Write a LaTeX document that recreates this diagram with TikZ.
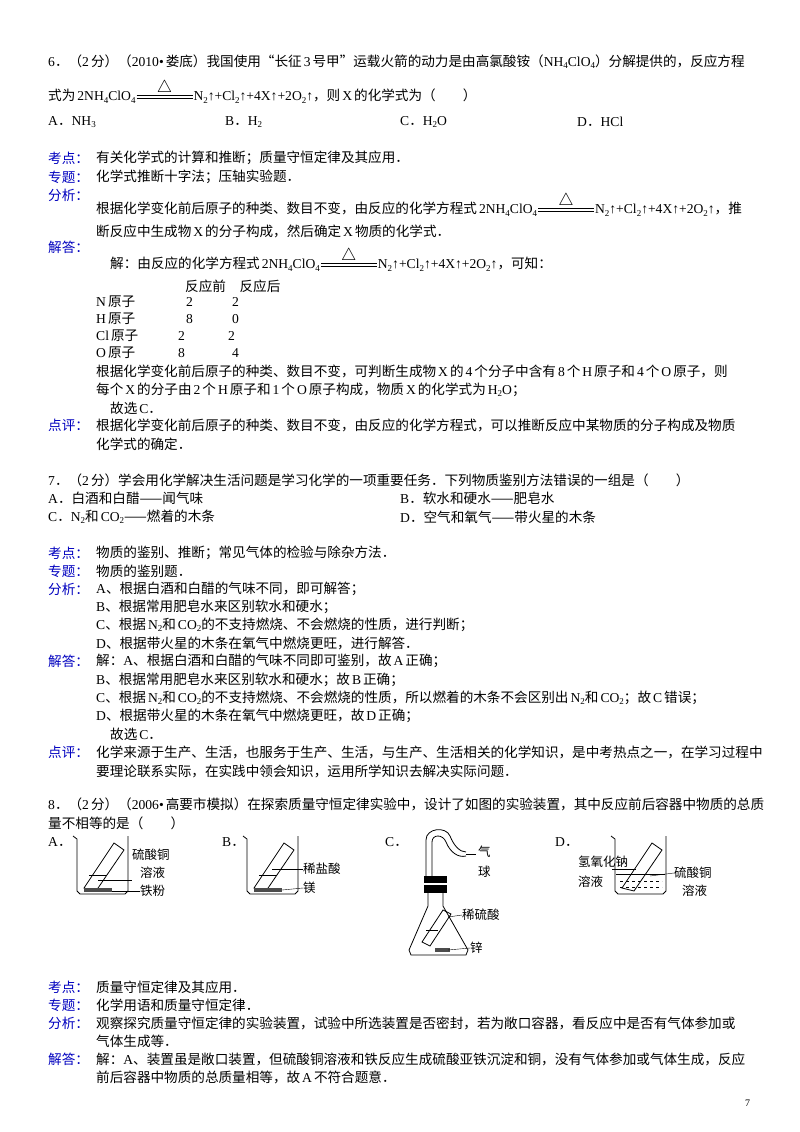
\documentclass[tikz,border=0pt]{standalone}
\usepackage{fontspec}
\setmainfont{Liberation Serif}
\newfontfamily\cjk{Noto Sans CJK SC}
\newfontfamily\lat{Liberation Serif}
\XeTeXinterchartokenstate=1
\newXeTeXintercharclass\cjkcls
\newXeTeXintercharclass\pcls
\makeatletter
\@tempcnta="3000
\loop\ifnum\@tempcnta<"3040 \XeTeXcharclass\@tempcnta=\pcls \advance\@tempcnta 1 \repeat
\@tempcnta="3040
\loop\ifnum\@tempcnta<"A000 \XeTeXcharclass\@tempcnta=\cjkcls \advance\@tempcnta 1 \repeat
\@tempcnta="FF00
\loop\ifnum\@tempcnta<"FFF0 \XeTeXcharclass\@tempcnta=\pcls \advance\@tempcnta 1 \repeat
\makeatother
\XeTeXcharclass`“=\pcls \XeTeXcharclass`”=\pcls \XeTeXcharclass`—=\pcls
\XeTeXinterchartoks 0 \cjkcls = {\hspace{2pt}\cjk}
\XeTeXinterchartoks 4095 \cjkcls = {\cjk}
\XeTeXinterchartoks \cjkcls 0 = {\lat\hspace{2pt}}
\XeTeXinterchartoks 0 \pcls = {\cjk}
\XeTeXinterchartoks 4095 \pcls = {\cjk}
\XeTeXinterchartoks \pcls 0 = {\lat}
\newcommand\dn[1]{\raisebox{-0.35ex}{\fontsize{9}{9}\selectfont #1}}
\newcommand\heat{\hspace{1pt}\rlap{\rule[2pt]{56pt}{0.7pt}}\rlap{\rule[5pt]{56pt}{0.7pt}}\makebox[56pt]{\raisebox{8pt}{\fontsize{18}{18}\selectfont$\triangle$}}\hspace{1pt}}
\newcommand\eqn{2NH\dn{4}ClO\dn{4}\heat N\dn{2}↑+Cl\dn{2}↑+4X↑+2O\dn{2}↑}
\begin{document}
\begin{tikzpicture}[x=1pt,y=-1pt,
  t/.style={anchor=west,inner sep=0pt,font=\fontsize{13.6}{15}\selectfont},
  s/.style={t,font=\fontsize{12.5}{14}\selectfont},
  lab/.style={t,text=blue!75!black},
  ln/.style={line width=0.8pt}]
\useasboundingbox[fill=white] (0,0) rectangle (800,1132);
% Q6
\node[t] (q6a) at (48,62) {6．（2分）（2010•娄底）我国使用“长征3号甲”运载火箭的动力是由高氯酸铵（NH\dn{4}ClO\dn{4}）分解提供的，反应方程};
\node[t] (q6b) at (48,92) {式为\eqn，则X的化学式为（　　）};
\node[t] (oA) at (48,122) {A．NH\dn{3}};
\node[t] (oB) at (225,122) {B．H\dn{2}};
\node[t] (oC) at (400,122) {C．H\dn{2}O};
\node[t] (oD) at (577,122) {D．HCl};
\node[lab] (k1) at (48,158) {考点：};
\node[t] (k1t) at (96,158) {有关化学式的计算和推断；质量守恒定律及其应用．};
\node[lab] (z1) at (48,177) {专题：};
\node[t] (z1t) at (96,177) {化学式推断十字法；压轴实验题．};
\node[lab] (f1) at (48,195) {分析：};
\node[t] (f1a) at (96,205) {根据化学变化前后原子的种类、数目不变，由反应的化学方程式\eqn，推};
\node[t] (f1b) at (96,231) {断反应中生成物X的分子构成，然后确定X物质的化学式．};
\node[lab] (j1) at (48,247) {解答：};
\node[t] (j1a) at (110,260) {解：由反应的化学方程式\eqn，可知：};
\node[t] (hd) at (185,286) {反应前　反应后};
\node[t] (r1) at (96,302) {N原子};\node[t] at (186,302) {2};\node[t] at (232,302) {2};
\node[t] (r2) at (96,319) {H原子};\node[t] at (186,319) {8};\node[t] at (232,319) {0};
\node[t] (r3) at (96,336) {Cl原子};\node[t] at (178,336) {2};\node[t] at (228,336) {2};
\node[t] (r4) at (96,353) {O原子};\node[t] at (178,353) {8};\node[t] at (232,353) {4};
\node[t] (j1b) at (96,371) {根据化学变化前后原子的种类、数目不变，可判断生成物X的4个分子中含有8个H原子和4个O原子，则};
\node[t] (j1c) at (96,390) {每个X的分子由2个H原子和1个O原子构成，物质X的化学式为H\dn{2}O；};
\node[t] (j1d) at (110,408) {故选C．};
\node[lab] (d1) at (48,425) {点评：};
\node[t] (d1a) at (96,425) {根据化学变化前后原子的种类、数目不变，由反应的化学方程式，可以推断反应中某物质的分子构成及物质};
\node[t] (d1b) at (96,444) {化学式的确定．};
% Q7
\node[t] (q7) at (48,480) {7．（2分）学会用化学解决生活问题是学习化学的一项重要任务．下列物质鉴别方法错误的一组是（　　）};
\node[t] (q7A) at (48,498) {A．白酒和白醋——闻气味};
\node[t] (q7B) at (400,498) {B．软水和硬水——肥皂水};
\node[t] (q7C) at (48,517) {C．N\dn{2}和CO\dn{2}——燃着的木条};
\node[t] (q7D) at (400,517) {D．空气和氧气——带火星的木条};
\node[lab] (k2) at (48,553) {考点：};
\node[t] at (96,553) {物质的鉴别、推断；常见气体的检验与除杂方法．};
\node[lab] (z2) at (48,571) {专题：};
\node[t] at (96,571) {物质的鉴别题．};
\node[lab] (f2) at (48,589) {分析：};
\node[t] at (96,589) {A、根据白酒和白醋的气味不同，即可解答；};
\node[t] at (96,607) {B、根据常用肥皂水来区别软水和硬水；};
\node[t] at (96,625) {C、根据N\dn{2}和CO\dn{2}的不支持燃烧、不会燃烧的性质，进行判断；};
\node[t] at (96,643) {D、根据带火星的木条在氧气中燃烧更旺，进行解答．};
\node[lab] (j2) at (48,661) {解答：};
\node[t] at (96,661) {解：A、根据白酒和白醋的气味不同即可鉴别，故A正确；};
\node[t] at (96,680) {B、根据常用肥皂水来区别软水和硬水；故B正确；};
\node[t] at (96,698) {C、根据N\dn{2}和CO\dn{2}的不支持燃烧、不会燃烧的性质，所以燃着的木条不会区别出N\dn{2}和CO\dn{2}；故C错误；};
\node[t] at (96,716) {D、根据带火星的木条在氧气中燃烧更旺，故D正确；};
\node[t] at (110,734) {故选C．};
\node[lab] (d2) at (48,752) {点评：};
\node[t] at (96,752) {化学来源于生产、生活，也服务于生产、生活，与生产、生活相关的化学知识，是中考热点之一，在学习过程中};
\node[t] at (96,771) {要理论联系实际，在实践中领会知识，运用所学知识去解决实际问题．};
% Q8
\node[t] (q8a) at (48,804) {8．（2分）（2006•高要市模拟）在探索质量守恒定律实验中，设计了如图的实验装置，其中反应前后容器中物质的总质};
\node[t] (q8b) at (48,823) {量不相等的是（　　）};
\node[t] at (48,842) {A．};
\node[t] at (222,842) {B．};
\node[t] at (385,842) {C．};
\node[t] at (555,842) {D．};
% beaker A
\draw[ln] (73,836) -- (77,839) -- (77,891) -- (80,894) -- (125,894) -- (128,891) -- (128,836);
\draw[ln] (84,888) -- (96,891) -- (124,850) -- (114,843) -- cycle;
\draw (89,875) -- (107,875);
\fill[black!70] (84,888) rectangle (112,892);
\draw (98,880) -- (132,880);
\node[s] (la1) at (132,855) {硫酸铜};
\node[s] (la2) at (140,873) {溶液};
\node[s] (la3) at (140,891) {铁粉};
\draw (112,891) -- (la3.west);
% beaker B
\draw[ln] (243,836) -- (247,839) -- (247,891) -- (250,894) -- (295,894) -- (298,891) -- (298,836);
\draw[ln] (254,888) -- (266,891) -- (294,850) -- (284,843) -- cycle;
\draw (259,875) -- (277,875);
\fill[black!70] (254,888) rectangle (282,892);
\node[s] (lb1) at (303,869) {稀盐酸};
\node[s] (lb2) at (303,888) {镁};
\draw (272,869) -- (lb1.west);
\draw (282,890) -- (lb2.west);
% flask C
\draw[ln] (426,876) -- (426,840) .. controls (426,828) and (446,826) .. (450,836) .. controls (454,846) and (460,852) .. (466,852);
\draw[ln] (432,876) -- (432,842) .. controls (432,834) and (443,834) .. (446,842) .. controls (450,852) and (458,858) .. (466,856);
\draw (466,854) -- (476,854);
\fill (424,876) rectangle (447,883);
\fill (424,885) rectangle (447,893);
\draw[ln] (428,893) -- (428,906) -- (409,950) -- (411,955) -- (466,955) -- (468,950) -- (443,906) -- (443,893);
\draw[ln] (422,942) -- (430,946) -- (451,914) -- (443,910) -- cycle;
\draw (426,930) -- (438,930);
\fill[black!70] (435,948) rectangle (450,952);
\node[s] (lc1) at (478,852) {气};
\node[s] (lc2) at (478,872) {球};
\node[s] (lc3) at (462,915) {稀硫酸};
\node[s] (lc4) at (470,948) {锌};
\draw (448,917) -- (lc3.west);
\draw (448,950) -- (lc4.west);
% beaker D
\draw[ln] (611,836) -- (615,839) -- (615,891) -- (618,894) -- (663,894) -- (666,891) -- (666,836);
\draw[ln] (622,888) -- (634,891) -- (662,850) -- (652,843) -- cycle;
\draw (616,874) -- (665,874);
\draw[dashed] (620,881) -- (662,881);
\draw[dashed] (620,887) -- (662,887);
\node[s] (ld1) at (578,862) {氢氧化钠};
\node[s] (ld2) at (578,882) {溶液};
\node[s] (ld3) at (674,873) {硫酸铜};
\node[s] (ld4) at (682,891) {溶液};
\draw (612,869) -- (636,869);
\draw (650,876) -- (ld3.west);
\node[lab] (k3) at (48,987) {考点：};
\node[t] at (96,987) {质量守恒定律及其应用．};
\node[lab] (z3) at (48,1005) {专题：};
\node[t] at (96,1005) {化学用语和质量守恒定律．};
\node[lab] (f3) at (48,1023) {分析：};
\node[t] at (96,1023) {观察探究质量守恒定律的实验装置，试验中所选装置是否密封，若为敞口容器，看反应中是否有气体参加或};
\node[t] at (96,1041) {气体生成等．};
\node[lab] (j3) at (48,1059) {解答：};
\node[t] at (96,1059) {解：A、装置虽是敞口装置，但硫酸铜溶液和铁反应生成硫酸亚铁沉淀和铜，没有气体参加或气体生成，反应};
\node[t] at (96,1077) {前后容器中物质的总质量相等，故A不符合题意．};
\node[t,font=\fontsize{10}{12}\selectfont] (pg) at (745,1103) {7};
\end{tikzpicture}
\end{document}
